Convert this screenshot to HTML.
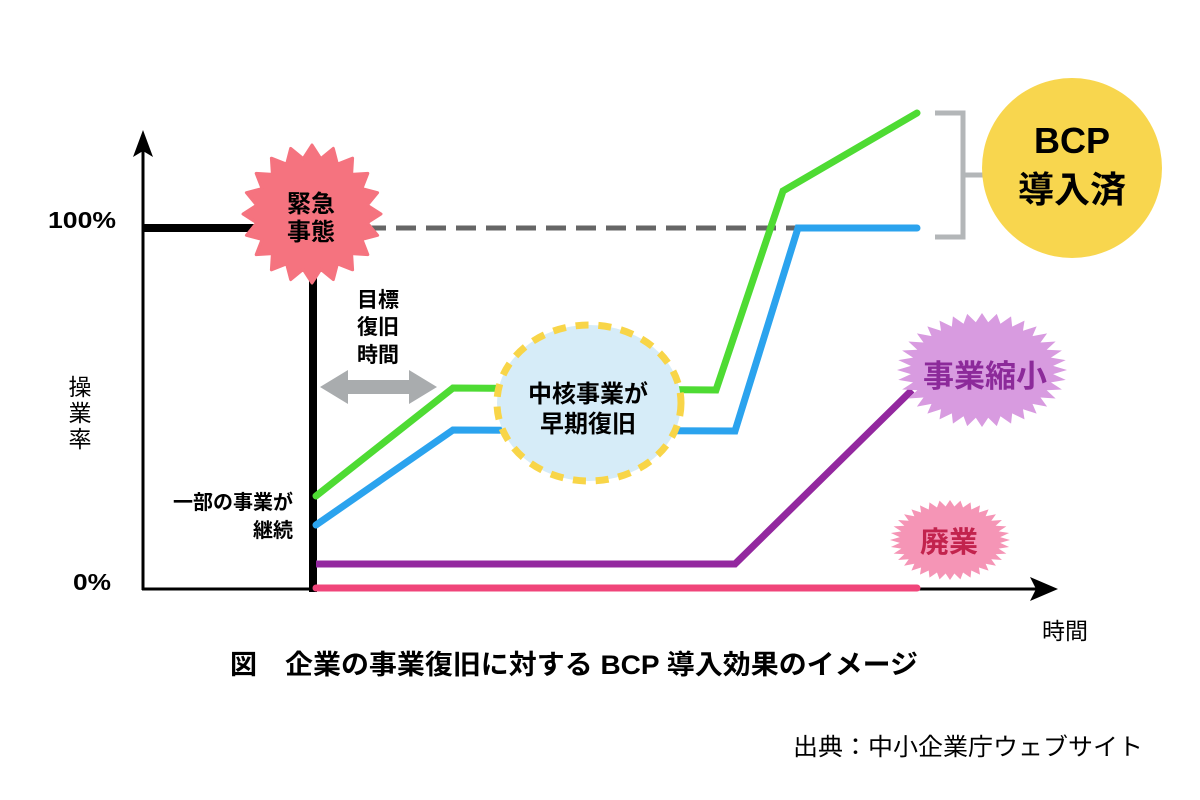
<!DOCTYPE html>
<html>
<head>
<meta charset="utf-8">
<style>
html,body{margin:0;padding:0;background:#fff;}
svg{display:block;}
text{font-family:"Liberation Sans","Noto Sans CJK JP",sans-serif;}
.b{font-weight:bold;}
</style>
</head>
<body>
<svg width="1200" height="800" viewBox="0 0 1200 800" xmlns="http://www.w3.org/2000/svg">
<defs>
<polygon id="burst" points="0,-1 .073,-.837 .174,-.985 .217,-.811 .342,-.940 .355,-.761 .5,-.866 .482,-.688 .643,-.766 .594,-.594 .766,-.643 .688,-.482 .866,-.5 .761,-.355 .940,-.342 .811,-.217 .985,-.174 .837,-.073 1,0 .837,.073 .985,.174 .811,.217 .940,.342 .761,.355 .866,.5 .688,.482 .766,.643 .594,.594 .643,.766 .482,.688 .5,.866 .355,.761 .342,.940 .217,.811 .174,.985 .073,.837 0,1 -.073,.837 -.174,.985 -.217,.811 -.342,.940 -.355,.761 -.5,.866 -.482,.688 -.643,.766 -.594,.594 -.766,.643 -.688,.482 -.866,.5 -.761,.355 -.940,.342 -.811,.217 -.985,.174 -.837,.073 -1,0 -.837,-.073 -.985,-.174 -.811,-.217 -.940,-.342 -.761,-.355 -.866,-.5 -.688,-.482 -.766,-.643 -.594,-.594 -.643,-.766 -.482,-.688 -.5,-.866 -.355,-.761 -.342,-.940 -.217,-.811 -.174,-.985 -.073,-.837"/>
</defs>

<!-- axes -->
<line x1="143" y1="590" x2="143" y2="150" stroke="#000" stroke-width="3"/>
<polygon points="143,130 153,157 143,151 133,157" fill="#000"/>
<line x1="142" y1="589" x2="1040" y2="589" stroke="#000" stroke-width="3"/>
<polygon points="1058,589 1030,577 1036,589 1030,601" fill="#000"/>

<!-- 100% baseline -->
<line x1="143" y1="228" x2="262" y2="228" stroke="#000" stroke-width="8"/>
<!-- dashed target line -->
<line x1="366" y1="228" x2="798" y2="228" stroke="#666" stroke-width="5" stroke-dasharray="20 10"/>

<!-- vertical drop -->
<line x1="313" y1="270" x2="313" y2="592" stroke="#000" stroke-width="8"/>

<!-- pink (廃業) -->
<polyline points="316,588 917,588" fill="none" stroke="#f0457a" stroke-width="7" stroke-linecap="round"/>
<!-- purple (縮小) -->
<polyline points="316,564 735,564 912,390" fill="none" stroke="#93289f" stroke-width="7" stroke-linejoin="miter"/>
<!-- blue -->
<polyline points="316,525 453,430 735,431 798,228 917,228" fill="none" stroke="#2ba3ee" stroke-width="7" stroke-linecap="round"/>
<!-- green -->
<polyline points="316,496 453,388 716,390 783,191 917,113" fill="none" stroke="#4edb33" stroke-width="7" stroke-linecap="round"/>

<!-- gray double arrow -->
<polygon points="320,387 348,370 348,380 409,380 409,370 437,387 409,404 409,394 348,394 348,404" fill="#a9acae"/>

<!-- core ellipse -->
<ellipse cx="589" cy="403" rx="92" ry="78" fill="#d6ecf8" stroke="#f8d548" stroke-width="7" stroke-dasharray="13 9.8"/>

<!-- bracket -->
<path d="M935 113 H963 V237 H935 M963 175 H997" fill="none" stroke="#b3b6b8" stroke-width="5"/>

<!-- BCP circle -->
<circle cx="1072" cy="168" r="90" fill="#f8d64e"/>

<!-- emergency starburst -->
<polygon points="312,145 320.8,158.7 333.3,148.4 337.4,164.1 352.6,158.2 351.6,174.4 367.8,173.4 361.9,188.6 377.6,192.7 367.3,205.2 381,214 367.3,222.8 377.6,235.3 361.9,239.4 367.8,254.6 351.6,253.6 352.6,269.8 337.4,263.9 333.3,279.6 320.8,269.3 312,283 303.2,269.3 290.7,279.6 286.6,263.9 271.4,269.8 272.4,253.6 256.2,254.6 262.1,239.4 246.4,235.3 256.7,222.8 243,214 256.7,205.2 246.4,192.7 262.1,188.6 256.2,173.4 272.4,174.4 271.4,158.2 286.6,164.1 290.7,148.4 303.2,158.7" fill="#f5737f" stroke="#f5737f" stroke-width="3" stroke-linejoin="round"/>

<!-- shrink starburst -->
<use href="#burst" transform="translate(982,370) scale(85,57)" fill="#d89be0"/>
<!-- closure starburst -->
<use href="#burst" transform="translate(950,540) scale(60,40)" fill="#f595b6"/>

<!-- labels -->
<text x="48" y="228" font-size="23" class="b" textLength="68" lengthAdjust="spacingAndGlyphs">100%</text>
<text x="73" y="590" font-size="23" class="b" textLength="38" lengthAdjust="spacingAndGlyphs">0%</text>
<text x="80" y="395" font-size="23" text-anchor="middle">操</text>
<text x="80" y="421" font-size="23" text-anchor="middle">業</text>
<text x="80" y="447" font-size="23" text-anchor="middle">率</text>

<text x="311" y="212" font-size="24" class="b" text-anchor="middle">緊急</text>
<text x="311" y="240" font-size="24" class="b" text-anchor="middle">事態</text>

<text x="378" y="307" font-size="21" class="b" text-anchor="middle">目標</text>
<text x="378" y="334" font-size="21" class="b" text-anchor="middle">復旧</text>
<text x="378" y="362" font-size="21" class="b" text-anchor="middle">時間</text>

<text x="293" y="509" font-size="20" class="b" text-anchor="end">一部の事業が</text>
<text x="293" y="537" font-size="20" class="b" text-anchor="end">継続</text>

<text x="588" y="402" font-size="24" class="b" text-anchor="middle">中核事業が</text>
<text x="588" y="432" font-size="24" class="b" text-anchor="middle">早期復旧</text>

<text x="1072" y="153" font-size="36" class="b" text-anchor="middle">BCP</text>
<text x="1072" y="202" font-size="36" class="b" text-anchor="middle">導入済</text>

<text x="985" y="387" font-size="31" class="b" text-anchor="middle" fill="#8c2a9a">事業縮小</text>
<text x="949" y="552" font-size="29" class="b" text-anchor="middle" fill="#c2234d">廃業</text>

<text x="1065" y="639" font-size="23" text-anchor="middle">時間</text>

<text x="230" y="674" font-size="27" class="b">図</text>
<text x="285" y="674" font-size="27" class="b" textLength="633" lengthAdjust="spacingAndGlyphs">企業の事業復旧に対する BCP 導入効果のイメージ</text>

<text x="793" y="755" font-size="24" textLength="350" lengthAdjust="spacingAndGlyphs">出典：中小企業庁ウェブサイト</text>
</svg>
</body>
</html>
